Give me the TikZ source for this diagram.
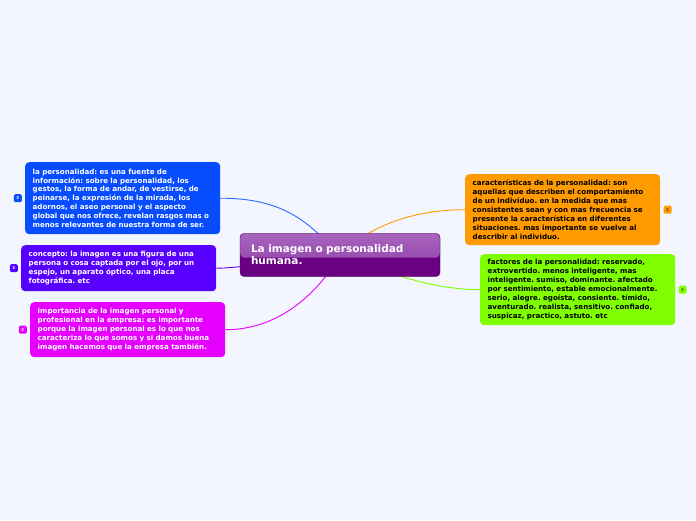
\documentclass[tikz,border=0pt]{standalone}
\usepackage{fontspec}
\setmainfont{DejaVu Sans}
\usepackage{tikz}
\usetikzlibrary{calc}
\frenchspacing

\definecolor{bgcol}{RGB}{243,246,254}
\definecolor{bluecol}{RGB}{8,76,255}
\definecolor{violetcol}{RGB}{88,0,255}
\definecolor{magentacol}{RGB}{230,0,255}
\definecolor{orangecol}{RGB}{255,154,0}
\definecolor{greencol}{RGB}{128,255,0}
\definecolor{titledark}{RGB}{106,0,130}
\definecolor{titlelight}{RGB}{168,100,190}
\definecolor{titlemid}{RGB}{140,60,165}

\pgfdeclarelayer{bg}
\pgfdeclarelayer{links}
\pgfsetlayers{bg,links,main}

\begin{document}
\begin{tikzpicture}[
  x=1pt, y=-1pt,
  topic/.style={rounded corners=4pt, anchor=north west, align=left,
                minimum width=194pt, text width=180pt, inner xsep=7.5pt, inner ysep=0pt,
                font=\bfseries\fontsize{7.1}{8.9}\selectfont},
  root/.style={draw=titledark!70!black, rounded corners=4pt, align=left,
               minimum width=200pt, minimum height=43pt, text width=178pt,
               text=white, fill=titledark,
               font=\bfseries\fontsize{10.5}{12}\selectfont,
               path picture={\shade[top color=titlelight, bottom color=titlemid]
                 (path picture bounding box.north west) rectangle
                 ($(path picture bounding box.east)+(0,2.5)$);}},
  badge/.style={rounded corners=1.5pt, minimum size=8pt, inner sep=0pt,
                font=\bfseries\fontsize{4}{4}\selectfont},
  link/.style={line width=0.9pt}
]
\begin{pgfonlayer}{bg}
\fill[bgcol] (0,0) rectangle (696,520);
\end{pgfonlayer}
\useasboundingbox (0,0) rectangle (696,520);

% Root
\node[root] (title) at (340,255) {La imagen o personalidad\\ humana.};

% Left branches
\node[topic, fill=bluecol, text=white, minimum height=72pt] (perso) at (25,162)
  {la personalidad: es una fuente de\\ información: sobre la personalidad, los\\
   gestos, la forma de andar, de vestirse, de\\ peinarse, la expresión de la mirada, los\\
   adornos, el aseo personal y el aspecto\\ global que nos ofrece, revelan rasgos mas o\\
   menos relevantes de nuestra forma de ser.};
\node[topic, fill=violetcol, text=white, minimum height=46pt] (concepto) at (21,245)
  {concepto: la imagen es una figura de una\\ persona o cosa captada por el ojo, por un\\
   espejo, un aparato óptico, una placa\\ fotográfica. etc};
\node[topic, fill=magentacol, text=white, minimum height=55pt] (empresa) at (30,302)
  {importancia de la imagen personal y\\ profesional en la empresa: es importante\\
   porque la imagen personal es lo que nos\\ caracteriza lo que somos y si damos buena\\
   imagen hacemos que la empresa también.};

% Right branches
\node[topic, fill=orangecol, text=black, minimum height=71pt] (caract) at (465,174)
  {características de la personalidad: son\\ aquellas que describen el comportamiento\\
   de un individuo. en la medida que mas\\ consistentes sean y con mas frecuencia se\\
   presente la característica en diferentes\\ situaciones. mas importante se vuelve al\\
   describir al individuo.};
\node[topic, fill=greencol, text=black, minimum height=71pt] (factores) at (480,254)
  {factores de la personalidad: reservado,\\ extrovertido. menos inteligente, mas\\
   inteligente. sumiso, dominante. afectado\\ por sentimiento, estable emocionalmente.\\
   serio, alegre. egoísta, consiente. tímido,\\ aventurado. realista, sensitivo. confiado,\\
   suspicaz, practico, astuto. etc};

% Badges
\node[badge, fill=bluecol, text=white, anchor=east] (bperso) at ($(perso.west)+(-3,0)$) {2};
\node[badge, fill=violetcol, text=white, anchor=east] (bconcepto) at ($(concepto.west)+(-3,0)$) {3};
\node[badge, fill=magentacol, text=white, anchor=east] (bempresa) at ($(empresa.west)+(-3,0)$) {2};
\node[badge, fill=orangecol, text=black!70, anchor=west] (bcaract) at ($(caract.east)+(3,0)$) {2};
\node[badge, fill=greencol, text=black!70, anchor=west] (bfactores) at ($(factores.east)+(3,0)$) {3};

% Links
\begin{pgfonlayer}{links}
\draw[link, draw=bluecol!85!white] (perso.east) .. controls +(67,0) and +(-30,-30) .. (title.center);
\draw[link, draw=violetcol] (concepto.east) .. controls +(26,0) and +(-40,3) .. (title.center);
\draw[link, draw=magentacol] (empresa.east) .. controls +(56,0) and +(-20,35) .. (title.center);
\draw[link, draw=orangecol] (caract.west) .. controls +(-50,0) and +(30,-30) .. (title.center);
\draw[link, draw=greencol] (factores.west) .. controls +(-50,0) and +(40,15) .. (title.center);
\end{pgfonlayer}
\end{tikzpicture}
\end{document}
